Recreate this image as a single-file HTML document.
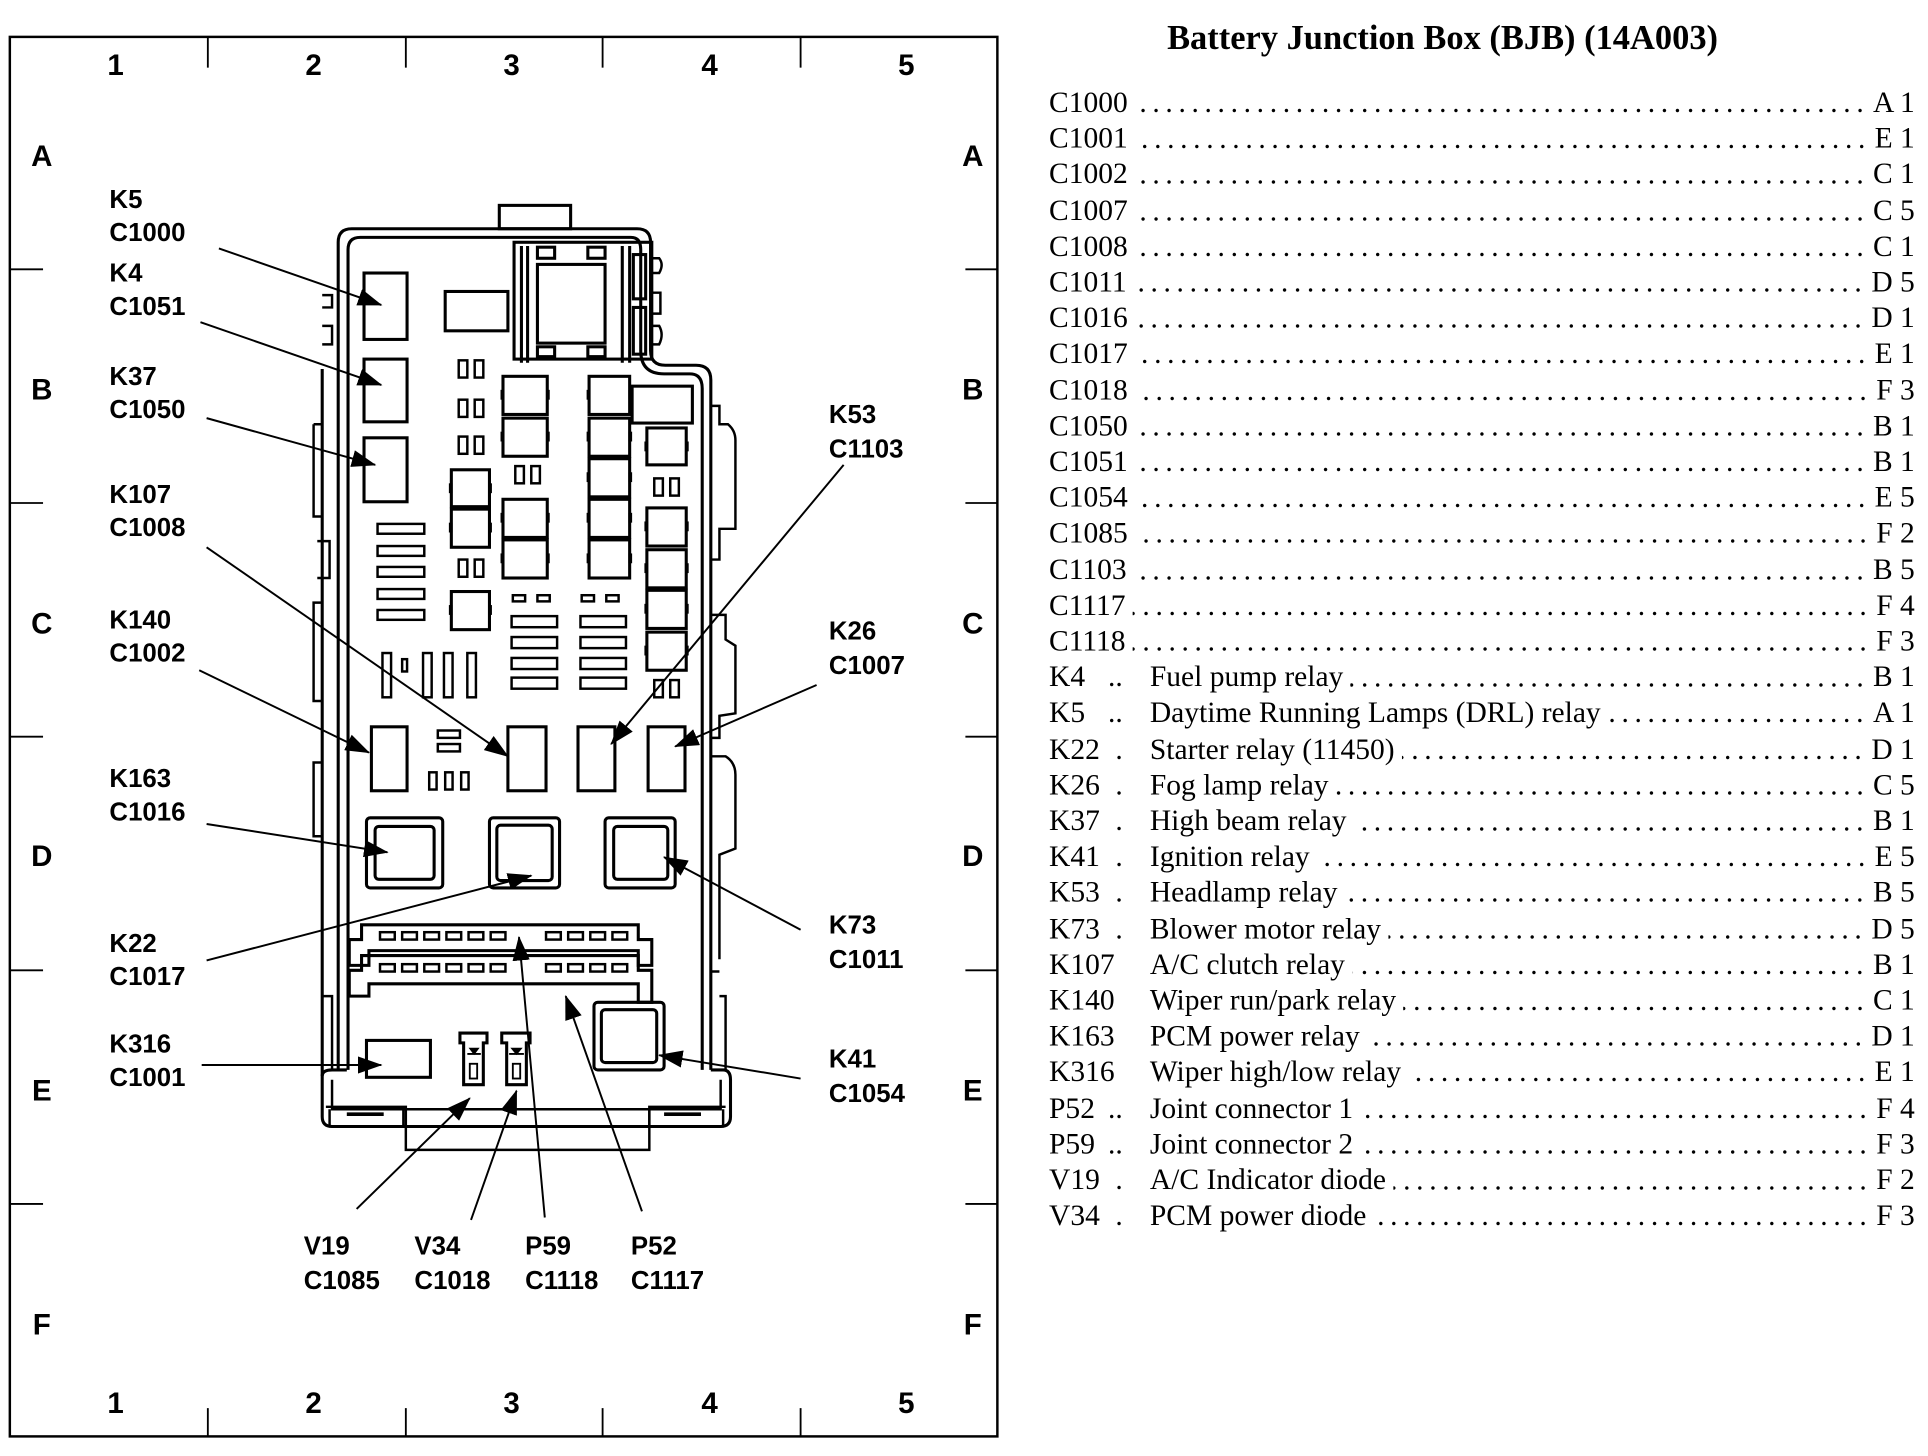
<!DOCTYPE html>
<html><head><meta charset="utf-8">
<style>
html,body{margin:0;padding:0;background:#fff;}
body{width:1928px;height:1456px;overflow:hidden;position:relative;}
#s{position:absolute;left:0;top:0;width:1568px;height:1184px;transform:scale(1.2298);transform-origin:0 0;}
svg{position:absolute;left:0;top:0;}
.lbl{font-family:"Liberation Sans",Arial,sans-serif;font-weight:bold;font-size:21px;fill:#000;}
.grid{font-family:"Liberation Sans",Arial,sans-serif;font-weight:bold;font-size:24px;fill:#000;}
.title{position:absolute;left:853px;width:640px;top:16px;text-align:center;font-family:"Liberation Serif","Times New Roman",serif;font-weight:bold;font-size:28px;}
.row{position:absolute;left:853px;width:704px;height:29px;display:flex;align-items:baseline;font-family:"Liberation Serif","Times New Roman",serif;font-size:24px;line-height:29px;white-space:nowrap;}
.code{display:inline-block;}
.kc{width:48px;display:inline-block;}
.kd{width:34px;display:inline-block;}
.fill{flex:1;overflow:hidden;letter-spacing:4.6px;margin:0 3px 0 6px;direction:rtl;text-align:left;}
.val{display:inline-block;}
</style></head><body><div id="s">
<svg width="1568" height="1184" viewBox="0 0 1568 1184" xmlns="http://www.w3.org/2000/svg">
<defs><marker id="a" markerWidth="20" markerHeight="14" refX="19" refY="7" orient="auto" markerUnits="userSpaceOnUse"><path d="M0,0 L20,7 L0,14 z" fill="#000"/></marker></defs>
<g fill="none" stroke="#000">
<rect x="8" y="30" width="803" height="1138" stroke-width="2"/>
<g stroke-width="1.5">
<line x1="169" y1="30" x2="169" y2="55"/><line x1="330" y1="30" x2="330" y2="55"/><line x1="490" y1="30" x2="490" y2="55"/><line x1="651" y1="30" x2="651" y2="55"/>
<line x1="169" y1="1145" x2="169" y2="1168"/><line x1="330" y1="1145" x2="330" y2="1168"/><line x1="490" y1="1145" x2="490" y2="1168"/><line x1="651" y1="1145" x2="651" y2="1168"/>
<line x1="8" y1="219" x2="35" y2="219"/><line x1="8" y1="409" x2="35" y2="409"/><line x1="8" y1="599" x2="35" y2="599"/><line x1="8" y1="789" x2="35" y2="789"/><line x1="8" y1="979" x2="35" y2="979"/>
<line x1="785" y1="219" x2="811" y2="219"/><line x1="785" y1="409" x2="811" y2="409"/><line x1="785" y1="599" x2="811" y2="599"/><line x1="785" y1="789" x2="811" y2="789"/><line x1="785" y1="979" x2="811" y2="979"/>
</g>
<g stroke-width="2.5">
<rect x="406" y="167" width="58" height="19"/>
<path d="M262,875 L262,300 M275,870 L275,197 Q275,186 286,186 L518,186 Q529,186 529,197 L529,285 Q529,297 541,297 L566,297 Q578,297 578,309 L578,870"/>
<path d="M283,870 L283,203 Q283,193 293,193 L513,193 Q521,193 521,203 L521,285 Q521,304 540,304 L561,304 Q571,304 571,316 L571,870"/>
<path d="M262,875 Q262,870 270,870 L282,870 M578,870 L588,870 Q594,870 594,878 L594,908 Q594,916 586,916 L270,916 Q262,916 262,908 L262,875"/>
<path d="M270,878 L270,902 L586,902 L586,878" stroke-width="2"/>
<path d="M265,900 L330,900 L330,935 L528,935 L528,900 L590,900" stroke-width="2"/>
<path d="M268,902 L268,916 M328,902 L328,916 M528,902 L528,916 M588,902 L588,916" stroke-width="2"/>
<line x1="282" y1="906" x2="312" y2="906" stroke-width="3"/><line x1="540" y1="906" x2="570" y2="906" stroke-width="3"/>
<path d="M262,240 L270,240 L270,250 L262,250 M262,265 L270,265 L270,280 L262,280 M255,345 L262,345 L262,420 L255,420 L255,345 M258,440 L268,440 L268,470 L258,470 M255,490 L262,490 L262,570 L255,570 Z M255,620 L262,620 L262,680 L255,680 Z M262,810 L270,810 L270,870" stroke-width="2"/>
<path d="M529,210 L536,210 Q540,215 536,222 L529,222 M529,238 L537,238 L537,255 L529,255 M529,265 L536,265 Q540,272 536,280 L529,280" stroke-width="2"/>
<path d="M578,330 L585,330 L585,345 L592,345 Q598,350 598,358 L598,430 L585,430 L585,455 L578,455 M578,500 L590,500 L590,520 L598,525 L598,580 L585,582 L585,600 L578,600 M578,615 L590,615 Q598,620 598,630 L598,690 L585,695 L585,780 M585,790 L578,790 M585,810 L590,810 L590,870" stroke-width="2"/>
</g>
<g stroke-width="2.5">
<rect x="418" y="197" width="112" height="95"/>
<path d="M424,200 L424,295 M512,200 L512,295 M506,200 L506,295 M429,200 L429,295"/>
<rect x="437" y="215" width="55" height="64"/>
<rect x="437" y="201" width="14" height="9"/><rect x="478" y="201" width="14" height="9"/>
<rect x="437" y="282" width="14" height="8"/><rect x="478" y="282" width="14" height="8"/>
<rect x="515" y="207" width="10" height="36"/><rect x="515" y="250" width="10" height="38"/>
<rect x="362" y="237" width="51" height="32"/>
</g>
<g stroke-width="2.5">
<rect x="296" y="222" width="35" height="54"/>
<rect x="296" y="292" width="35" height="51"/>
<rect x="296" y="356" width="35" height="52"/>
</g>
<g stroke-width="2">
<rect x="373" y="293" width="7" height="14"/><rect x="386" y="293" width="7" height="14"/>
<rect x="373" y="325" width="7" height="14"/><rect x="386" y="325" width="7" height="14"/>
<rect x="373" y="355" width="7" height="14"/><rect x="386" y="355" width="7" height="14"/>
<rect x="373" y="455" width="7" height="14"/><rect x="386" y="455" width="7" height="14"/>
<rect x="419" y="379" width="7" height="14"/><rect x="432" y="379" width="7" height="14"/>
<rect x="532" y="389" width="7" height="14"/><rect x="545" y="389" width="7" height="14"/>
<rect x="532" y="553" width="7" height="14"/><rect x="545" y="553" width="7" height="14"/>
</g>
<g stroke-width="2.5">
<rect x="409" y="306" width="36" height="31"/><rect x="409" y="340" width="36" height="31"/>
<rect x="409" y="406" width="36" height="31"/><rect x="409" y="439" width="36" height="31"/>
<rect x="479" y="306" width="33" height="31"/><rect x="479" y="340" width="33" height="31"/><rect x="479" y="373" width="33" height="31"/>
<rect x="479" y="406" width="33" height="31"/><rect x="479" y="439" width="33" height="31"/>
<rect x="514" y="314" width="49" height="30"/>
<rect x="526" y="348" width="32" height="30"/>
<rect x="526" y="413" width="32" height="31"/><rect x="526" y="447" width="32" height="31"/><rect x="526" y="480" width="32" height="31"/><rect x="526" y="514" width="32" height="31"/>
<rect x="367" y="382" width="31" height="30"/><rect x="367" y="414" width="31" height="31"/><rect x="367" y="481" width="31" height="31"/>
</g>
<g stroke-width="2">
<rect x="307" y="426" width="38" height="8"/><rect x="307" y="444" width="38" height="8"/><rect x="307" y="461" width="38" height="8"/><rect x="307" y="479" width="38" height="8"/><rect x="307" y="496" width="38" height="8"/>
<rect x="417" y="484" width="10" height="5"/><rect x="437" y="484" width="10" height="5"/><rect x="473" y="484" width="10" height="5"/><rect x="493" y="484" width="10" height="5"/>
<rect x="416" y="501" width="37" height="9"/><rect x="416" y="518" width="37" height="9"/><rect x="416" y="535" width="37" height="9"/><rect x="416" y="551" width="37" height="9"/>
<rect x="472" y="501" width="37" height="9"/><rect x="472" y="518" width="37" height="9"/><rect x="472" y="535" width="37" height="9"/><rect x="472" y="551" width="37" height="9"/>
<rect x="311" y="531" width="7" height="36"/><rect x="327" y="536" width="4" height="10"/><rect x="344" y="531" width="7" height="36"/><rect x="361" y="531" width="7" height="36"/><rect x="380" y="531" width="7" height="36"/>
<rect x="356" y="594" width="18" height="6"/><rect x="356" y="605" width="18" height="6"/>
<rect x="349" y="628" width="6" height="14"/><rect x="362" y="628" width="6" height="14"/><rect x="375" y="628" width="6" height="14"/>
</g>
<g fill="#000" stroke="none">
<rect x="407" y="317" width="3" height="8"/><rect x="444" y="317" width="3" height="8"/><rect x="407" y="351" width="3" height="8"/><rect x="444" y="351" width="3" height="8"/>
<rect x="407" y="417" width="3" height="8"/><rect x="444" y="417" width="3" height="8"/><rect x="407" y="450" width="3" height="8"/><rect x="444" y="450" width="3" height="8"/>
<rect x="477" y="317" width="3" height="8"/><rect x="511" y="317" width="3" height="8"/><rect x="477" y="351" width="3" height="8"/><rect x="511" y="351" width="3" height="8"/><rect x="477" y="384" width="3" height="8"/><rect x="511" y="384" width="3" height="8"/><rect x="477" y="417" width="3" height="8"/><rect x="511" y="417" width="3" height="8"/><rect x="477" y="450" width="3" height="8"/><rect x="511" y="450" width="3" height="8"/>
<rect x="524" y="359" width="3" height="8"/><rect x="557" y="359" width="3" height="8"/><rect x="524" y="424" width="3" height="8"/><rect x="557" y="424" width="3" height="8"/><rect x="524" y="458" width="3" height="8"/><rect x="557" y="458" width="3" height="8"/><rect x="524" y="491" width="3" height="8"/><rect x="557" y="491" width="3" height="8"/><rect x="524" y="525" width="3" height="8"/><rect x="557" y="525" width="3" height="8"/>
<rect x="365" y="393" width="3" height="8"/><rect x="397" y="393" width="3" height="8"/><rect x="365" y="425" width="3" height="8"/><rect x="397" y="425" width="3" height="8"/><rect x="365" y="492" width="3" height="8"/><rect x="397" y="492" width="3" height="8"/>
</g>
<g stroke-width="2.5">
<rect x="302" y="591" width="29" height="52"/><rect x="413" y="591" width="31" height="52"/><rect x="470" y="591" width="30" height="52"/><rect x="527" y="591" width="30" height="52"/>
<rect x="298" y="665" width="62" height="57" rx="3"/><rect x="305" y="672" width="48" height="43" rx="3"/>
<rect x="398" y="665" width="57" height="57" rx="3"/><rect x="404" y="671" width="45" height="45" rx="3"/>
<rect x="492" y="665" width="57" height="57" rx="3"/><rect x="499" y="672" width="44" height="43" rx="3"/>
</g>
<g stroke-width="2.5">
<path d="M294,752 L519,752 L519,764 L530,764 L530,785 L519,785 L519,773 L300,773 L300,785 L284,785 L284,764 L294,764 Z"/>
<path d="M294,777 L519,777 L519,789 L530,789 L530,815 L519,815 L519,800 L300,800 L300,810 L284,810 L284,789 L294,789 Z"/>
</g>
<g stroke-width="2">
<rect x="309" y="758" width="12" height="6"/><rect x="327" y="758" width="12" height="6"/><rect x="345" y="758" width="12" height="6"/><rect x="363" y="758" width="12" height="6"/><rect x="381" y="758" width="12" height="6"/><rect x="399" y="758" width="12" height="6"/>
<rect x="444" y="758" width="12" height="6"/><rect x="462" y="758" width="12" height="6"/><rect x="480" y="758" width="12" height="6"/><rect x="498" y="758" width="12" height="6"/>
<rect x="309" y="784" width="12" height="6"/><rect x="327" y="784" width="12" height="6"/><rect x="345" y="784" width="12" height="6"/><rect x="363" y="784" width="12" height="6"/><rect x="381" y="784" width="12" height="6"/><rect x="399" y="784" width="12" height="6"/>
<rect x="444" y="784" width="12" height="6"/><rect x="462" y="784" width="12" height="6"/><rect x="480" y="784" width="12" height="6"/><rect x="498" y="784" width="12" height="6"/>
</g>
<g stroke-width="2.5">
<rect x="483" y="815" width="57" height="55" rx="3"/><rect x="489" y="821" width="45" height="43" rx="3"/>
<rect x="298" y="846" width="52" height="30"/>
<path d="M374,840 L396,840 L396,848 L393,848 L393,882 L377,882 L377,848 L374,848 Z"/>
<path d="M408,840 L431,840 L431,848 L428,848 L428,882 L412,882 L412,848 L408,848 Z"/>
<rect x="382" y="865" width="6" height="12" stroke-width="1.5"/><rect x="417" y="865" width="6" height="12" stroke-width="1.5"/>
<path d="M380,857 L391,857 M414,857 L426,857" stroke-width="1.5"/>
</g>
<g fill="#000" stroke="none"><path d="M381,852 L390,852 L385.5,858 z"/><path d="M415,852 L425,852 L420,858 z"/></g>
<g stroke-width="1.6" marker-end="url(#a)">
<line x1="178" y1="202" x2="310" y2="248"/>
<line x1="163" y1="262" x2="310" y2="313"/>
<line x1="168" y1="340" x2="305" y2="378"/>
<line x1="168" y1="445" x2="413" y2="615"/>
<line x1="162" y1="545" x2="300" y2="612"/>
<line x1="686" y1="378" x2="497" y2="605"/>
<line x1="664" y1="557" x2="549" y2="607"/>
<line x1="168" y1="670" x2="315" y2="693"/>
<line x1="168" y1="781" x2="432" y2="712"/>
<line x1="651" y1="756" x2="540" y2="697"/>
<line x1="164" y1="866" x2="310" y2="866"/>
<line x1="651" y1="877" x2="536" y2="858"/>
<line x1="290" y1="983" x2="382" y2="893"/>
<line x1="383" y1="992" x2="420" y2="887"/>
<line x1="443" y1="990" x2="422" y2="762"/>
<line x1="522" y1="985" x2="460" y2="810"/>
</g>
</g>
<g class="grid">
<text x="94" y="61" text-anchor="middle">1</text><text x="255" y="61" text-anchor="middle">2</text><text x="416" y="61" text-anchor="middle">3</text><text x="577" y="61" text-anchor="middle">4</text><text x="737" y="61" text-anchor="middle">5</text>
<text x="94" y="1149" text-anchor="middle">1</text><text x="255" y="1149" text-anchor="middle">2</text><text x="416" y="1149" text-anchor="middle">3</text><text x="577" y="1149" text-anchor="middle">4</text><text x="737" y="1149" text-anchor="middle">5</text>
<g text-anchor="middle">
<text x="34" y="135">A</text><text x="34" y="325">B</text><text x="34" y="515">C</text><text x="34" y="704">D</text><text x="34" y="895">E</text><text x="34" y="1085">F</text>
<text x="791" y="135">A</text><text x="791" y="325">B</text><text x="791" y="515">C</text><text x="791" y="704">D</text><text x="791" y="895">E</text><text x="791" y="1085">F</text>
</g></g>
<g class="lbl">
<text x="89" y="169">K5</text><text x="89" y="196">C1000</text>
<text x="89" y="229">K4</text><text x="89" y="256">C1051</text>
<text x="89" y="313">K37</text><text x="89" y="340">C1050</text>
<text x="89" y="409">K107</text><text x="89" y="436">C1008</text>
<text x="89" y="511">K140</text><text x="89" y="538">C1002</text>
<text x="89" y="640">K163</text><text x="89" y="667">C1016</text>
<text x="89" y="774">K22</text><text x="89" y="801">C1017</text>
<text x="89" y="856">K316</text><text x="89" y="883">C1001</text>
<text x="674" y="344">K53</text><text x="674" y="372">C1103</text>
<text x="674" y="520">K26</text><text x="674" y="548">C1007</text>
<text x="674" y="759">K73</text><text x="674" y="787">C1011</text>
<text x="674" y="868">K41</text><text x="674" y="896">C1054</text>
<text x="247" y="1020">V19</text><text x="247" y="1048">C1085</text>
<text x="337" y="1020">V34</text><text x="337" y="1048">C1018</text>
<text x="427" y="1020">P59</text><text x="427" y="1048">C1118</text>
<text x="513" y="1020">P52</text><text x="513" y="1048">C1117</text>
</g>
</svg>
<div class="title">Battery Junction Box (BJB) (14A003)</div>
<div class="row" style="top:70px"><span class="code">C1000</span><span class="fill">................................................................................</span><span class="val">A 1</span></div>
<div class="row" style="top:99px"><span class="code">C1001</span><span class="fill">................................................................................</span><span class="val">E 1</span></div>
<div class="row" style="top:128px"><span class="code">C1002</span><span class="fill">................................................................................</span><span class="val">C 1</span></div>
<div class="row" style="top:158px"><span class="code">C1007</span><span class="fill">................................................................................</span><span class="val">C 5</span></div>
<div class="row" style="top:187px"><span class="code">C1008</span><span class="fill">................................................................................</span><span class="val">C 1</span></div>
<div class="row" style="top:216px"><span class="code">C1011</span><span class="fill">................................................................................</span><span class="val">D 5</span></div>
<div class="row" style="top:245px"><span class="code">C1016</span><span class="fill">................................................................................</span><span class="val">D 1</span></div>
<div class="row" style="top:274px"><span class="code">C1017</span><span class="fill">................................................................................</span><span class="val">E 1</span></div>
<div class="row" style="top:304px"><span class="code">C1018</span><span class="fill">................................................................................</span><span class="val">F 3</span></div>
<div class="row" style="top:333px"><span class="code">C1050</span><span class="fill">................................................................................</span><span class="val">B 1</span></div>
<div class="row" style="top:362px"><span class="code">C1051</span><span class="fill">................................................................................</span><span class="val">B 1</span></div>
<div class="row" style="top:391px"><span class="code">C1054</span><span class="fill">................................................................................</span><span class="val">E 5</span></div>
<div class="row" style="top:420px"><span class="code">C1085</span><span class="fill">................................................................................</span><span class="val">F 2</span></div>
<div class="row" style="top:450px"><span class="code">C1103</span><span class="fill">................................................................................</span><span class="val">B 5</span></div>
<div class="row" style="top:479px"><span class="code">C1117</span><span class="fill">................................................................................</span><span class="val">F 4</span></div>
<div class="row" style="top:508px"><span class="code">C1118</span><span class="fill">................................................................................</span><span class="val">F 3</span></div>
<div class="row" style="top:537px"><span class="kc">K4</span><span class="kd">..</span><span>Fuel pump relay</span><span class="fill">................................................................................</span><span class="val">B 1</span></div>
<div class="row" style="top:566px"><span class="kc">K5</span><span class="kd">..</span><span>Daytime Running Lamps (DRL) relay</span><span class="fill">................................................................................</span><span class="val">A 1</span></div>
<div class="row" style="top:596px"><span class="kc">K22</span><span class="kd">&nbsp;.</span><span>Starter relay (11450)</span><span class="fill">................................................................................</span><span class="val">D 1</span></div>
<div class="row" style="top:625px"><span class="kc">K26</span><span class="kd">&nbsp;.</span><span>Fog lamp relay</span><span class="fill">................................................................................</span><span class="val">C 5</span></div>
<div class="row" style="top:654px"><span class="kc">K37</span><span class="kd">&nbsp;.</span><span>High beam relay</span><span class="fill">................................................................................</span><span class="val">B 1</span></div>
<div class="row" style="top:683px"><span class="kc">K41</span><span class="kd">&nbsp;.</span><span>Ignition relay</span><span class="fill">................................................................................</span><span class="val">E 5</span></div>
<div class="row" style="top:712px"><span class="kc">K53</span><span class="kd">&nbsp;.</span><span>Headlamp relay</span><span class="fill">................................................................................</span><span class="val">B 5</span></div>
<div class="row" style="top:742px"><span class="kc">K73</span><span class="kd">&nbsp;.</span><span>Blower motor relay</span><span class="fill">................................................................................</span><span class="val">D 5</span></div>
<div class="row" style="top:771px"><span class="kc">K107</span><span class="kd"></span><span>A/C clutch relay</span><span class="fill">................................................................................</span><span class="val">B 1</span></div>
<div class="row" style="top:800px"><span class="kc">K140</span><span class="kd"></span><span>Wiper run/park relay</span><span class="fill">................................................................................</span><span class="val">C 1</span></div>
<div class="row" style="top:829px"><span class="kc">K163</span><span class="kd"></span><span>PCM power relay</span><span class="fill">................................................................................</span><span class="val">D 1</span></div>
<div class="row" style="top:858px"><span class="kc">K316</span><span class="kd"></span><span>Wiper high/low relay</span><span class="fill">................................................................................</span><span class="val">E 1</span></div>
<div class="row" style="top:888px"><span class="kc">P52</span><span class="kd">..</span><span>Joint connector 1</span><span class="fill">................................................................................</span><span class="val">F 4</span></div>
<div class="row" style="top:917px"><span class="kc">P59</span><span class="kd">..</span><span>Joint connector 2</span><span class="fill">................................................................................</span><span class="val">F 3</span></div>
<div class="row" style="top:946px"><span class="kc">V19</span><span class="kd">&nbsp;.</span><span>A/C Indicator diode</span><span class="fill">................................................................................</span><span class="val">F 2</span></div>
<div class="row" style="top:975px"><span class="kc">V34</span><span class="kd">&nbsp;.</span><span>PCM power diode</span><span class="fill">................................................................................</span><span class="val">F 3</span></div>
</div></body></html>
